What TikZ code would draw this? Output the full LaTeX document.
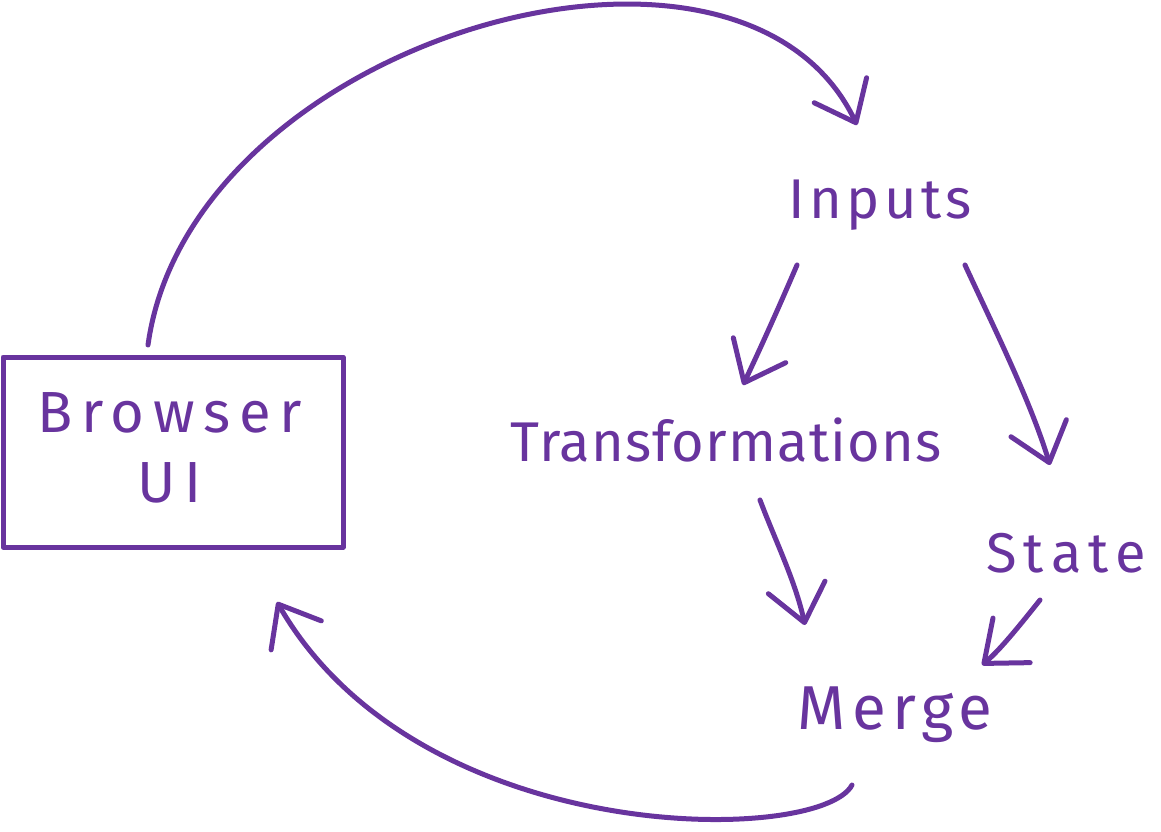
\documentclass[tikz,border=0pt]{standalone}
\usepackage{fontspec}
\setmainfont{Fira Sans}
\usetikzlibrary{arrows.meta}
\definecolor{ink}{RGB}{104,52,158}
\begin{document}
\begin{tikzpicture}[x=1pt,y=-1pt,
  ink/.style={draw=ink,line width=5pt,line cap=round,line join=round},
  lbl/.style={text=ink,inner sep=0pt},
  harrow/.style={ink,-{Straight Barb[length=36pt,width=58pt,line cap=round,line join=round]}}]
\useasboundingbox (0,0) rectangle (1161,831);
\node[ink,line width=5pt,minimum width=340pt,minimum height=190pt,inner sep=0pt] (ui) at (173,452) {};
\node[lbl,align=center,font=\fontsize{58}{70}\selectfont\addfontfeature{LetterSpace=15}] (uitext) at (170,448) {Browser\\UI};
\node[lbl,font=\fontsize{56}{70}\selectfont\addfontfeature{LetterSpace=8}] (inputs) at (880,205) {Inputs};
\node[lbl,font=\fontsize{56}{70}\selectfont\addfontfeature{LetterSpace=2}] (trans) at (726,440) {Transformations};
\node[lbl,font=\fontsize{56}{70}\selectfont\addfontfeature{LetterSpace=13}] (state) at (1066,553) {State};
\node[lbl,font=\fontsize{62}{70}\selectfont\addfontfeature{LetterSpace=10}] (merge) at (895,715) {Merge};
\draw[harrow] ([shift={(-25,-107)}]ui.center) .. controls (190,40) and (740,-120) .. ([shift={(-23,-80)}]inputs.center);
\draw[harrow] ([shift={(-83,60)}]inputs.center) .. controls (782,300) and (762,345) .. ([shift={(17,-55)}]trans.center);
\draw[harrow] ([shift={(85,60)}]inputs.center) .. controls (995,330) and (1030,400) .. ([shift={(-16,-88)}]state.center);
\draw[harrow] ([shift={(34,60)}]trans.center) .. controls (775,540) and (795,580) .. ([shift={(-90,-90)}]merge.center);
\draw[harrow] ([shift={(-26,47)}]state.center) .. controls (1020,625) and (1000,650) .. ([shift={(87,-50)}]merge.center);
\draw[harrow] ([shift={(-43,70)}]merge.center) .. controls (820,845) and (420,850) .. ([shift={(104,150)}]ui.center);
\end{tikzpicture}
\end{document}
